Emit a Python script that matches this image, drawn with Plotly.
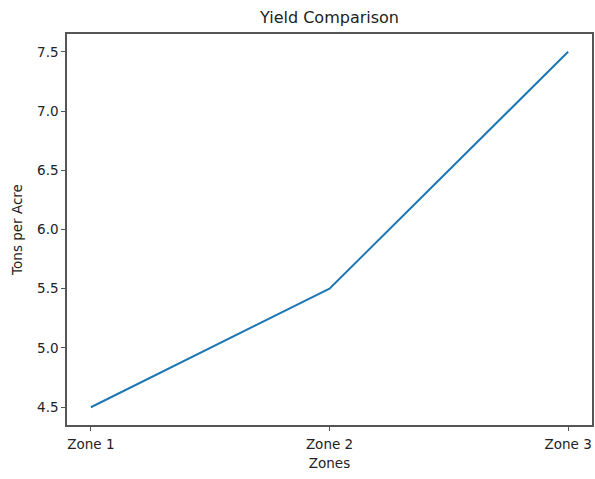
import plotly.graph_objects as go

zones = ["Zone 1", "Zone 2", "Zone 3"]
yield_tons = [4.5, 5.5, 7.5]
y_ticks = [4.5, 5.0, 5.5, 6.0, 6.5, 7.0, 7.5]

W, H = 595, 479

fig = go.Figure()
fig.add_trace(go.Scatter(x=list(range(len(zones))), y=yield_tons, mode="lines",
                         line=dict(color="#1f77b4", width=2)))

font = dict(family="DejaVu Sans", size=13.5, color="#222222")
fig.update_layout(
    width=W, height=H,
    margin=dict(l=67, r=3, t=34, b=54, autoexpand=False),
    paper_bgcolor="white", plot_bgcolor="white",
    showlegend=False,
    font=font,
    title=dict(text="Yield Comparison", x=(67 + 592) / 2 / W, xanchor="center", y=1 - 17/H, yanchor="middle",
               font=dict(family="DejaVu Sans", size=16, color="#222222")),
    xaxis=dict(range=[-0.1, 2.1], tickvals=list(range(len(zones))), ticktext=zones,
               showgrid=False, zeroline=False, showline=True, linecolor="#555555", linewidth=1.5,
               mirror=True, ticks="outside", ticklen=4, tickcolor="#555555", automargin=False,
               ticklabelstandoff=2,
               title=dict(text="Zones", font=font, standoff=8)),
    yaxis=dict(range=[4.35, 7.65], tickvals=y_ticks, ticktext=[f"{v:.1f}" for v in y_ticks],
               showgrid=False, zeroline=False, showline=True, linecolor="#555555", linewidth=1.5,
               mirror=True, ticks="outside", ticklen=4, tickcolor="#555555", automargin=False,
               title=dict(text="Tons per Acre", font=font, standoff=11)),
)

fig.write_html("out.html", config={"displayModeBar": False},
               post_script="document.body.style.margin='0';document.body.style.overflow='hidden';")
